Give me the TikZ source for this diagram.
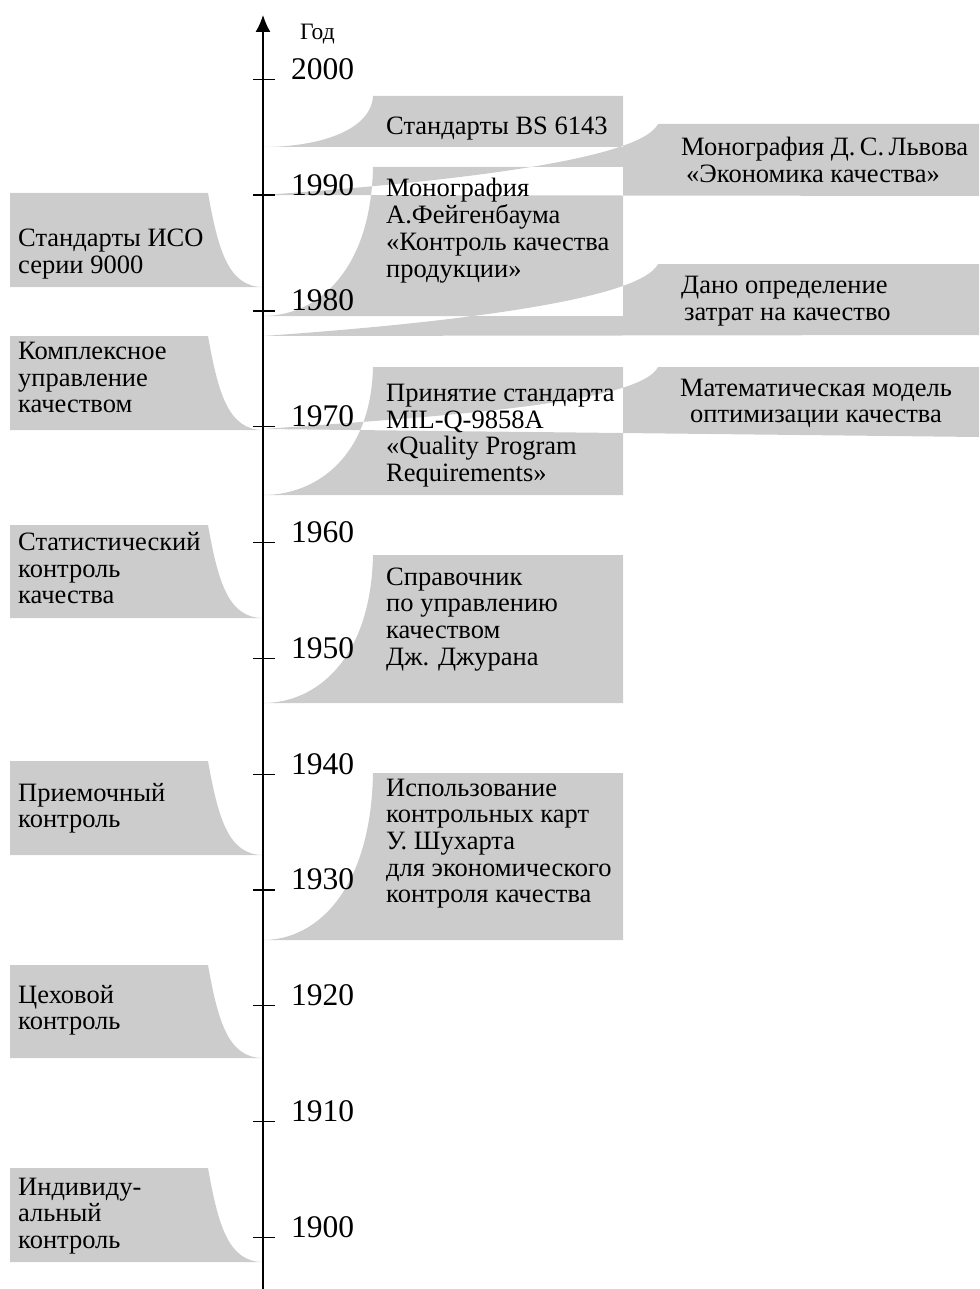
\documentclass[tikz,border=0pt]{standalone}
\usepackage{fontspec}
\setmainfont{Liberation Serif}
\usetikzlibrary{arrows.meta}
\definecolor{boxgray}{RGB}{204,204,204}
\tikzset{
  txt/.style={font=\fontsize{26.5}{26.7}\selectfont, align=left, inner sep=0pt, anchor=base west},
  yr/.style={font=\fontsize{31.5}{32}\selectfont, inner sep=0pt, anchor=base west},
  tck/.style={line width=1.2pt},
  axisline/.style={line width=1.4pt, -{Latex[length=17pt,width=15pt]}},
}
\begin{document}
\begin{tikzpicture}[x=1pt,y=-1pt]
\useasboundingbox (0,0) rectangle (979,1289);
% gray bands (overlaps cancel out: even odd rule)
\fill[boxgray, even odd rule]
  % left side
  (10,193) -- (208,193) .. controls (218,249) and (228,287) .. (263,287) -- (10,287) -- cycle
  (10,336) -- (208,336) .. controls (218,392) and (228,430) .. (263,430) -- (10,430) -- cycle
  (10,525) -- (208,525) .. controls (218,581) and (228,618) .. (263,618) -- (10,618) -- cycle
  (10,761) -- (208,761) .. controls (218,817) and (228,855) .. (263,855) -- (10,855) -- cycle
  (10,965) -- (208,965) .. controls (218,1021) and (228,1058) .. (263,1058) -- (10,1058) -- cycle
  (10,1168) -- (208,1168) .. controls (218,1224) and (228,1262) .. (263,1262) -- (10,1262) -- cycle
  % right side, near
  (623,96) -- (623,147) -- (263,147) .. controls (318,147) and (371,131) .. (373,96) -- cycle
  (623,167) -- (623,316) -- (263,316) .. controls (318,316) and (371,270) .. (373,167) -- cycle
  (623,367) -- (623,495) -- (263,495) .. controls (318,495) and (371,455) .. (373,367) -- cycle
  (623,555) -- (623,703) -- (263,703) .. controls (318,703) and (371,657) .. (373,555) -- cycle
  (623,773) -- (623,940) -- (263,940) .. controls (318,940) and (371,888) .. (373,773) -- cycle
  % right side, far
  (979,124) -- (979,196) -- (263,195) .. controls (450,182) and (640,160) .. (658,124) -- cycle
  (979,264) -- (979,335) -- (263,336) .. controls (450,323) and (640,300) .. (658,264) -- cycle
  (979,367) -- (979,437) -- (263,429) .. controls (450,416) and (640,403) .. (658,367) -- cycle;
% time axis
\coordinate (axbot) at (263,1289);
\coordinate (axtop) at (263,15);
\draw[axisline] (axbot) -- (axtop);
\node[font=\fontsize{23.5}{24}\selectfont, inner sep=0pt, anchor=base west] (god) at (300,39.3) {Год};
\foreach \yr [count=\i from 0] in {2000,1990,...,1900} {
  \pgfmathsetmacro\ty{79.3+\i*115.8}
  \draw[tck] (253,\ty) -- (275,\ty);
  \node[yr] (y\yr) at (291,\ty) {\yr};
}
% left texts (anchored at the baseline of the last line)
\node[txt] (iso) at (18,273.2) {Стандарты ИСО\\серии 9000};
\node[txt] (kompl) at (18,412.9) {Комплексное\\управление\\качеством};
\node[txt] (stat) at (18,603.9) {Статистический\\контроль\\качества};
\node[txt] (priem) at (18,827.7) {Приемочный\\контроль};
\node[txt] (ceh) at (18,1029.7) {Цеховой\\контроль};
\node[txt] (indiv) at (18,1248.4) {Индивиду-\\альный\\контроль};
% right texts
\node[txt] (bs) at (386,135) {Стандарты BS 6143};
\node[txt] (feig) at (386,277.1) {Монография\\А.Фейгенбаума\\«Контроль качества\\продукции»};
\node[txt] (mil) at (386,481.6) {Принятие стандарта\\MIL-Q-9858A\\«Quality Program\\Requirements»};
\node[txt] (jur) at (386,665.1) {Справочник\\по управлению\\качеством\\Дж. Джурана};
\node[txt] (shu) at (386,902.8) {Использование\\контрольных карт\\У. Шухарта\\для экономического\\контроля качества};
% far right texts
\node[txt] (lvov) at (681,182.2) {Монография Д.\,С.\,Львова\\\hspace{5pt}«Экономика качества»};
\node[txt] (dano) at (681,320.2) {Дано определение\\\hspace{3pt}затрат на качество};
\node[txt, align=center, anchor=base] (math) at (816,422.7) {Математическая модель\\оптимизации качества};
\end{tikzpicture}
\end{document}
